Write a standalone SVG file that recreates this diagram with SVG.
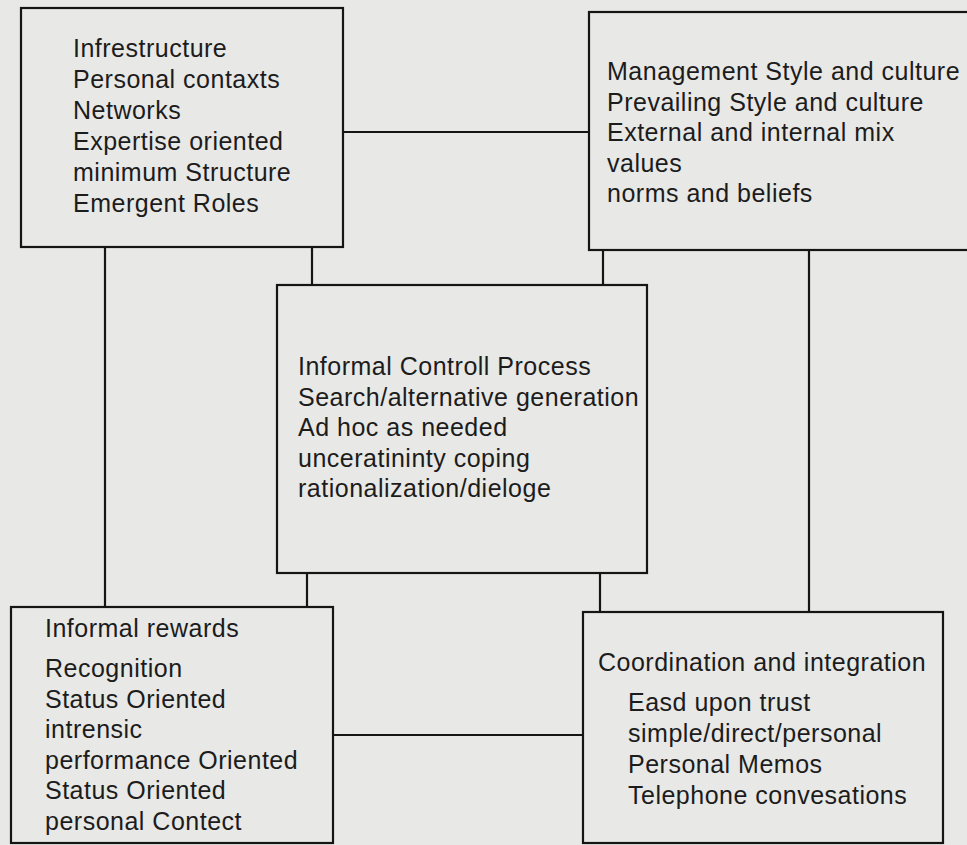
<svg xmlns="http://www.w3.org/2000/svg" width="967" height="845" viewBox="0 0 967 845">
<style>
  .box { fill: none; stroke: #151515; stroke-width: 2.2; }
  .conn { stroke: #151515; stroke-width: 2.2; fill: none; }
  text { font-family: "Liberation Sans", Arial, Helvetica, sans-serif; font-size: 25px; letter-spacing: 0.5px; fill: #1c1c1c; }
</style>
<rect x="0" y="0" width="967" height="845" fill="#e8e8e6"/>
<g id="connectors">
  <line class="conn" x1="343" y1="132" x2="589" y2="132"/>
  <line class="conn" x1="105" y1="247" x2="105" y2="607"/>
  <line class="conn" x1="312" y1="247" x2="312" y2="285"/>
  <line class="conn" x1="603" y1="250" x2="603" y2="285"/>
  <line class="conn" x1="809" y1="250" x2="809" y2="612"/>
  <line class="conn" x1="307" y1="573" x2="307" y2="607"/>
  <line class="conn" x1="600" y1="573" x2="600" y2="612"/>
  <line class="conn" x1="333" y1="735" x2="583" y2="735"/>
</g>
<g id="infrastructure">
  <rect class="box" x="21" y="8" width="322" height="239"/>
  <text x="73" y="57">Infrestructure</text>
  <text x="73" y="88">Personal contaxts</text>
  <text x="73" y="119">Networks</text>
  <text x="73" y="150">Expertise oriented</text>
  <text x="73" y="181">minimum Structure</text>
  <text x="73" y="212">Emergent Roles</text>
</g>
<g id="management-style">
  <rect class="box" x="589" y="12" width="420" height="238"/>
  <text x="607" y="80">Management Style and culture</text>
  <text x="607" y="110.5">Prevailing Style and culture</text>
  <text x="607" y="141">External and internal mix</text>
  <text x="607" y="171.5">values</text>
  <text x="607" y="202">norms and beliefs</text>
</g>
<g id="informal-control">
  <rect class="box" x="277" y="285" width="370" height="288"/>
  <text x="298" y="375">Informal Controll Process</text>
  <text x="298" y="406">Search/alternative generation</text>
  <text x="298" y="436">Ad hoc as needed</text>
  <text x="298" y="467">unceratininty coping</text>
  <text x="298" y="497">rationalization/dieloge</text>
</g>
<g id="informal-rewards">
  <rect class="box" x="11" y="607" width="322" height="236"/>
  <text x="45" y="637">Informal rewards</text>
  <text x="45" y="677">Recognition</text>
  <text x="45" y="707.5">Status Oriented</text>
  <text x="45" y="738">intrensic</text>
  <text x="45" y="768.5">performance Oriented</text>
  <text x="45" y="799">Status Oriented</text>
  <text x="45" y="829.5">personal Contect</text>
</g>
<g id="coordination">
  <rect class="box" x="583" y="612" width="360" height="231"/>
  <text x="598" y="671">Coordination and integration</text>
  <text x="628" y="711">Easd upon trust</text>
  <text x="628" y="742">simple/direct/personal</text>
  <text x="628" y="773">Personal Memos</text>
  <text x="628" y="804">Telephone convesations</text>
</g>
</svg>
